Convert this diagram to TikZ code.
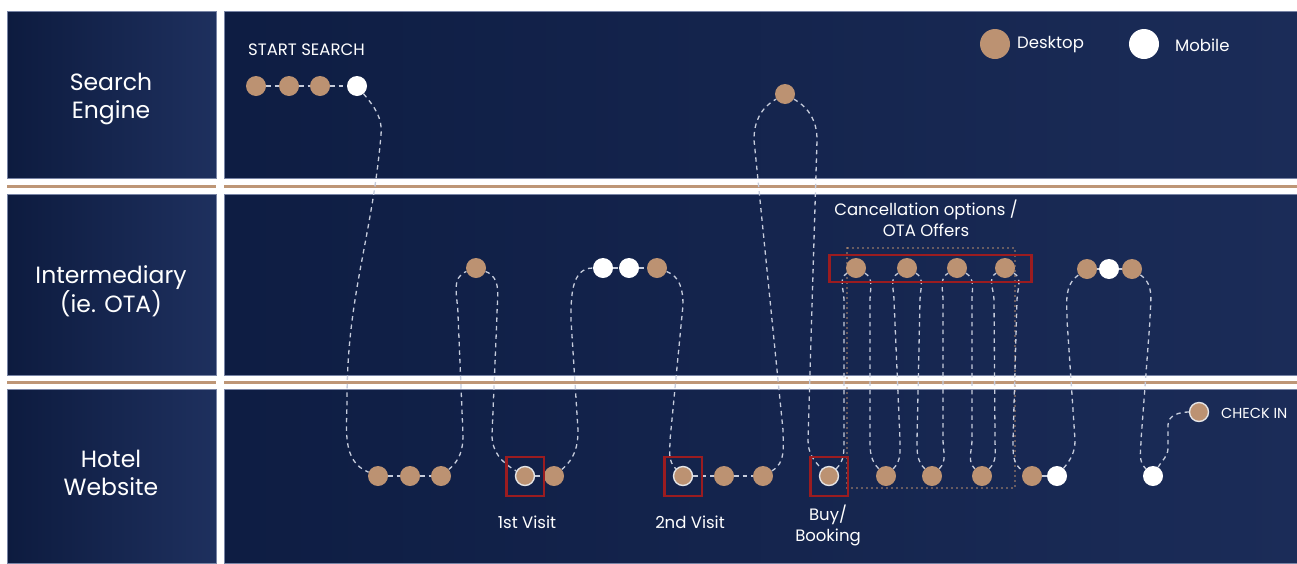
\documentclass[tikz,border=0pt]{standalone}
\usepackage{fontspec}
\setmainfont{Poppins}
\usetikzlibrary{fit,calc}
\definecolor{navyA}{RGB}{13,27,63}
\definecolor{navyB}{RGB}{30,48,94}
\definecolor{navyC}{RGB}{14,29,67}
\definecolor{navyD}{RGB}{27,44,88}
\definecolor{tanc}{RGB}{188,146,114}
\definecolor{sepc}{RGB}{190,150,118}
\definecolor{redc}{RGB}{155,28,32}
\definecolor{dashc}{RGB}{198,204,220}
\definecolor{ringc}{RGB}{228,228,230}
\definecolor{edgec}{RGB}{120,132,165}
\pgfdeclarelayer{panels}
\pgfdeclarelayer{links}
\pgfsetlayers{panels,links,main}
\begin{document}
\begin{tikzpicture}[x=1pt,y=1pt,
  dsk/.style={circle,fill=tanc,minimum size=20pt,inner sep=0pt},
  mob/.style={circle,fill=white,minimum size=20pt,inner sep=0pt},
  ring/.style={dsk,draw=ringc,line width=1.4pt,minimum size=19pt},
  conn/.style={draw=dashc,line width=1.3pt,dash pattern=on 4.5pt off 4pt},
  redbox/.style={draw=redc,line width=2.4pt,inner sep=0pt},
  tandot/.style={draw=tanc,line width=1.6pt,dash pattern=on 0pt off 5pt,line cap=round},
  lane/.style={text=white,font=\fontsize{23.5}{28}\selectfont,align=center},
  lbl/.style={text=white,font=\fontsize{16.5}{21}\selectfont,align=center,inner sep=0pt},
  panelL/.style={left color=navyA,right color=navyB,draw=edgec,line width=0.5pt},
  panelR/.style={left color=navyC,right color=navyD,draw=edgec,line width=0.5pt},
]
\useasboundingbox (0,0) rectangle (1297,-563);
\begin{pgfonlayer}{panels}
\fill[white] (0,0) rectangle (1297,-563);
% lane panels
\shade[panelL] (7,-11) rectangle (216,-178);
\shade[panelL] (7,-194) rectangle (216,-375);
\shade[panelL] (7,-389) rectangle (216,-563);
\shade[panelR] (224,-11) rectangle (1297,-178);
\shade[panelR] (224,-194) rectangle (1297,-375);
\shade[panelR] (224,-389) rectangle (1297,-563);
% separators
\fill[sepc] (7,-184.5) rectangle (216,-188);
\fill[sepc] (224,-184.5) rectangle (1297,-188);
\fill[sepc] (7,-380.5) rectangle (216,-384);
\fill[sepc] (224,-380.5) rectangle (1297,-384);
\end{pgfonlayer}

% lane labels
\node[lane] (laneA) at (111,-99) {Search\\Engine};
\node[lane] (laneB) at (111,-291) {Intermediary\\(ie. OTA)};
\node[lane] (laneC) at (111,-473) {Hotel\\Website};

% legend
\node[dsk,minimum size=30pt] (legD) at (995,-44) {};
\node[lbl,anchor=west] (legDt) at (1017,-45) {Desktop};
\node[mob,minimum size=30pt] (legM) at (1144,-44) {};
\node[lbl,anchor=west] (legMt) at (1175,-45) {Mobile};

% texts
\node[lbl,anchor=west,font=\fontsize{16.5}{19}\selectfont] (tStart) at (248,-50) {START SEARCH};
\node[lbl] (tCanc) at (926,-218) {Cancellation options /\\OTA Offers};
\node[lbl] (tV1) at (527,-522) {1st Visit};
\node[lbl] (tV2) at (690,-522) {2nd Visit};
\node[lbl] (tBuy) at (828,-525) {Buy/\\Booking};
\node[lbl,anchor=west,font=\fontsize{14.5}{18}\selectfont] (tCheck) at (1221,-413) {CHECK IN};

% row 1 dots
\node[dsk] (s1) at (256,-86) {};
\node[dsk] (s2) at (289,-86) {};
\node[dsk] (s3) at (320,-86) {};
\node[mob] (s4) at (357,-86) {};
\node[dsk] (t1) at (785,-94) {};
% row 2 dots
\node[dsk] (i1) at (476,-268) {};
\node[mob] (i2) at (603,-268) {};
\node[mob] (i3) at (629,-268) {};
\node[dsk] (i4) at (657,-268) {};
\node[dsk] (c1) at (856,-268) {};
\node[dsk] (c2) at (907,-268) {};
\node[dsk] (c3) at (957,-268) {};
\node[dsk] (c4) at (1005,-268) {};
\node[dsk] (j1) at (1087,-269) {};
\node[mob] (j2) at (1109,-269) {};
\node[dsk] (j3) at (1132,-269) {};
% row 3 dots
\node[dsk] (h1) at (378,-476) {};
\node[dsk] (h2) at (410,-476) {};
\node[dsk] (h3) at (441,-476) {};
\node[ring] (v1) at (525,-476) {};
\node[dsk] (h4) at (554,-476) {};
\node[ring] (v2) at (683,-476) {};
\node[dsk] (h5) at (724,-476) {};
\node[dsk] (h6) at (763,-476) {};
\node[ring] (v3) at (829,-476) {};
\node[dsk] (h7) at (886,-476) {};
\node[dsk] (h8) at (932,-476) {};
\node[dsk] (h9) at (982,-476) {};
\node[dsk] (h10) at (1032,-476) {};
\node[mob] (h11) at (1057,-476) {};
\node[mob] (h12) at (1153,-476) {};
\node[ring] (ci) at (1199,-412) {};

% highlight boxes
\node[redbox,fit=(v1),inner xsep=8.5pt,inner ysep=9.5pt,yshift=-0.5pt] (rb1) {};
\node[redbox,fit=(v2),inner xsep=8.5pt,inner ysep=9.5pt,yshift=-0.5pt] (rb2) {};
\node[redbox,fit=(v3),inner xsep=8.5pt,inner ysep=9.5pt,yshift=-0.5pt] (rb3) {};
\node[redbox,fit=(c1)(c4),inner xsep=16.3pt,inner ysep=3.3pt,yshift=-0.5pt] (rbc) {};

\begin{pgfonlayer}{links}
% dotted frame of the cancellation loop
\draw[tandot] (847,-248) rectangle (1015,-488);
% row connectors
\draw[conn] (s1) -- (s2) (s2) -- (s3) (s3) -- (s4);
\draw[conn] (i2) -- (i3) (i3) -- (i4);
\draw[conn] (j1) -- (j2) (j2) -- (j3);
\draw[conn] (h1) -- (h2) (h2) -- (h3);
\draw[conn] (v1) -- (h4);
\draw[conn] (v2) -- (h5) (h5) -- (h6);
\draw[conn] (h10) -- (h11);
% journey
\draw[conn] (s4) to[out=-50,in=85] (381,-135) to[out=-95,in=90] (347,-400) to[out=-90,in=158] (h1);
\draw[conn] (h3) to[out=40,in=-90] (463,-435) -- (458,-315) to[out=90,in=200] (i1);
\draw[conn] (i1) to[out=-20,in=90] (497,-315) -- (492,-435) to[out=-90,in=150] (v1);
\draw[conn] (h4) to[out=40,in=-90] (578,-430) -- (571,-320) to[out=90,in=180] (i2);
\draw[conn] (i4) to[out=-20,in=90] (683,-305) -- (670,-440) to[out=-90,in=135] (v2);
\draw[conn] (h6) to[out=30,in=-90] (783,-430) -- (754,-140) to[out=90,in=210] (t1);
\draw[conn] (t1) to[out=-30,in=90] (817,-140) -- (808,-440) to[out=-90,in=135] (v3);
\draw[conn] (v3) to[out=45,in=-90] (844,-440) -- (844,-300) to[out=90,in=210] (c1);
\draw[conn] (c1) to[out=-30,in=90] (870,-300) -- (870,-440) to[out=-90,in=135] (h7);
\draw[conn] (h7) to[out=45,in=-90] (900,-440) -- (894,-300) to[out=90,in=210] (c2);
\draw[conn] (c2) to[out=-30,in=90] (920,-300) -- (917,-440) to[out=-90,in=135] (h8);
\draw[conn] (h8) to[out=45,in=-90] (943,-440) -- (943,-300) to[out=90,in=210] (c3);
\draw[conn] (c3) to[out=-30,in=90] (972,-300) -- (972,-440) to[out=-90,in=135] (h9);
\draw[conn] (h9) to[out=45,in=-90] (995,-440) -- (994,-300) to[out=90,in=210] (c4);
\draw[conn] (c4) to[out=-30,in=90] (1017,-300) -- (1013,-440) to[out=-90,in=150] (h10);
\draw[conn] (h11) to[out=50,in=-90] (1075,-440) -- (1067,-320) to[out=90,in=215] (j1);
\draw[conn] (j3) to[out=-35,in=90] (1150,-320) -- (1141,-440) to[out=-90,in=135] (h12);
\draw[conn] (h12) to[out=60,in=-90] (1168,-448) -- (1168,-425) to[out=90,in=180] (ci);
\end{pgfonlayer}
\end{tikzpicture}
\end{document}
